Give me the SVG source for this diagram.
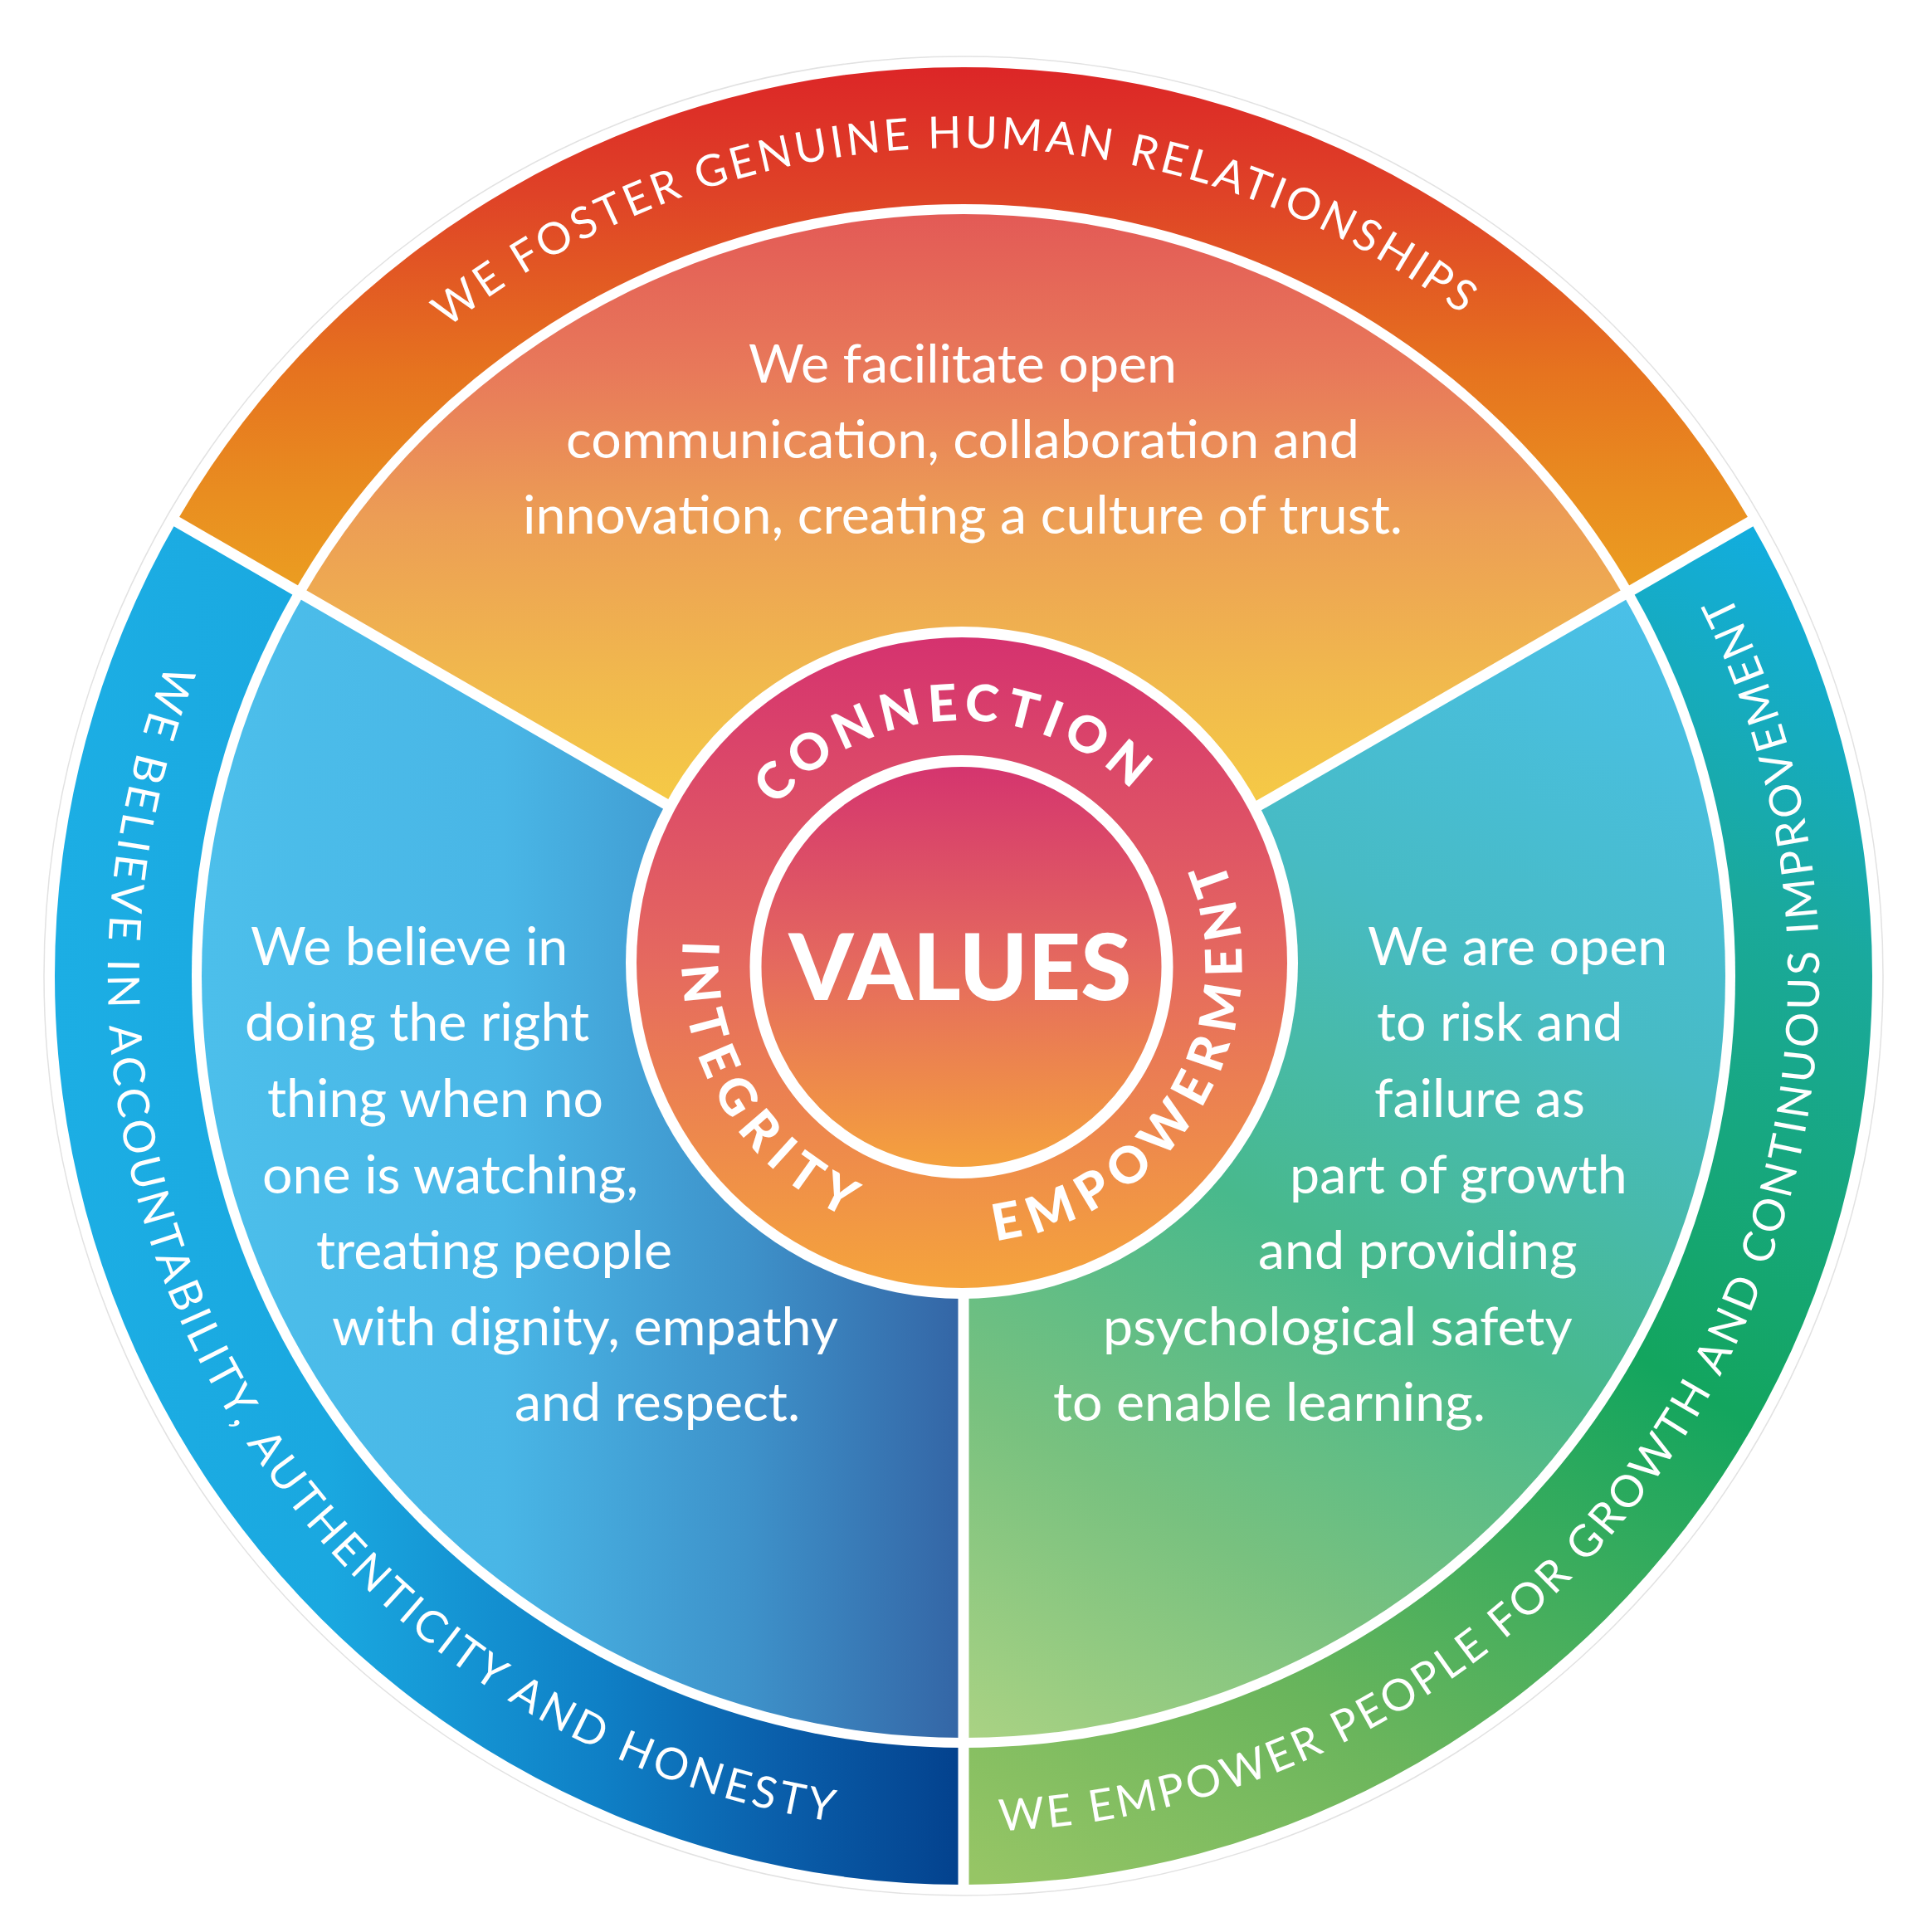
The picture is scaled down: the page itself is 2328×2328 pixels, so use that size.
<svg xmlns="http://www.w3.org/2000/svg" xmlns:xlink="http://www.w3.org/1999/xlink" width="2328" height="2328" viewBox="0 0 2328 2328">
<defs>
<style>
.ring{font-family:Lato,"Noto Sans",sans-serif;font-size:53px;letter-spacing:4px;fill:#fff}
.core{font-family:Lato,"Noto Sans",sans-serif;font-weight:900;font-size:61px;fill:#fff}
.body{font-family:Lato,"Noto Sans",sans-serif;font-size:64.5px;fill:#fff}
.title{font-family:Lato,"Noto Sans",sans-serif;font-weight:900;font-size:111px;fill:#fff}
.sep{stroke:#fff;stroke-width:13;fill:none}
</style>
<linearGradient id="gTopOuter" gradientUnits="userSpaceOnUse" x1="0" y1="82" x2="0" y2="700">
<stop offset="0" stop-color="#DC2627"/><stop offset="0.25" stop-color="#DF4327"/><stop offset="0.59" stop-color="#E6731F"/><stop offset="0.83" stop-color="#E98D20"/><stop offset="1" stop-color="#EB9C21"/>
</linearGradient>
<linearGradient id="gTopInner" gradientUnits="userSpaceOnUse" x1="0" y1="257" x2="0" y2="960">
<stop offset="0" stop-color="#E35A56"/><stop offset="0.27" stop-color="#E8795A"/><stop offset="0.52" stop-color="#EC9D55"/><stop offset="0.815" stop-color="#F1BA4D"/><stop offset="1" stop-color="#F5C946"/>
</linearGradient>
<linearGradient id="gLeftOuter" gradientUnits="userSpaceOnUse" x1="65" y1="0" x2="1161" y2="0">
<stop offset="0" stop-color="#1CAEE4"/><stop offset="0.3" stop-color="#1AA8E0"/><stop offset="0.6" stop-color="#0F80C6"/><stop offset="0.8" stop-color="#0A5EAA"/><stop offset="1" stop-color="#03418D"/>
</linearGradient>
<linearGradient id="gLeftInner" gradientUnits="userSpaceOnUse" x1="240" y1="0" x2="1155" y2="0">
<stop offset="0" stop-color="#4CBFEB"/><stop offset="0.4" stop-color="#49B6E6"/><stop offset="0.72" stop-color="#3E92CA"/><stop offset="1" stop-color="#3466A6"/>
</linearGradient>
<linearGradient id="gRightOuter" gradientUnits="userSpaceOnUse" x1="2150" y1="650" x2="1200" y2="2270">
<stop offset="0" stop-color="#12ADE0"/><stop offset="0.21" stop-color="#1AA99C"/><stop offset="0.5" stop-color="#13A55E"/><stop offset="0.8" stop-color="#6AB55C"/><stop offset="1" stop-color="#96C565"/>
</linearGradient>
<linearGradient id="gRightInner" gradientUnits="userSpaceOnUse" x1="1960" y1="700" x2="1170" y2="2090">
<stop offset="0" stop-color="#4AC0EA"/><stop offset="0.3" stop-color="#47BBC4"/><stop offset="0.55" stop-color="#48B98C"/><stop offset="0.78" stop-color="#78C17F"/><stop offset="1" stop-color="#A9D283"/>
</linearGradient>
<linearGradient id="gRing" gradientUnits="userSpaceOnUse" x1="0" y1="768" x2="0" y2="1552">
<stop offset="0" stop-color="#D5326F"/><stop offset="0.5" stop-color="#E5695F"/><stop offset="1" stop-color="#F5A43C"/>
</linearGradient>
<linearGradient id="gDisk" gradientUnits="userSpaceOnUse" x1="0" y1="917" x2="0" y2="1413">
<stop offset="0" stop-color="#D4336F"/><stop offset="0.5" stop-color="#E56A5E"/><stop offset="1" stop-color="#F5A33C"/>
</linearGradient>
<path id="pTop" d="M 163 1176 A 998 998 0 0 1 2159 1176"/>
<path id="pLeft" d="M 808.4 207.2 A 1031 1031 0 1 0 1823.7 1965.8"/>
<path id="pRight" d="M 492.8 1961.1 A 1031 1031 0 1 0 1520.4 209.7"/>
<path id="pConn" d="M 873.4 1220.7 A 292 292 0 1 1 1448.2 1200.6"/>
<path id="pInteg" d="M 1035.5 846.4 A 337 337 0 1 0 1382.3 1412.4"/>
<path id="pEmpow" d="M 943.5 1419.0 A 337 337 0 1 0 1272.9 842.9"/>
</defs>

<rect width="2328" height="2328" fill="#fff"/>
<circle cx="1161" cy="1176" r="1108" fill="#fff" stroke="#e2e2e2" stroke-width="1.5"/>

<g id="outer-ring">
<path id="ring-connection" d="M 1161 1176 L 212.7 628.5 A 1095 1095 0 0 1 2109.3 628.5 Z" fill="url(#gTopOuter)"/>
<path id="ring-empowerment" d="M 1161 1176 L 2109.3 628.5 A 1095 1095 0 0 1 1161 2271 Z" fill="url(#gRightOuter)"/>
<path id="ring-integrity" d="M 1161 1176 L 1161 2271 A 1095 1095 0 0 1 212.7 628.5 Z" fill="url(#gLeftOuter)"/>
<circle cx="1161" cy="1176" r="930" fill="#fff"/>
</g>

<g id="sector-connection">
<path d="M 1161 1176 L 366 717 A 918 918 0 0 1 1956 717 Z" fill="url(#gTopInner)"/>
<text class="body" text-anchor="middle"><tspan x="1160" y="461">We facilitate open</tspan><tspan x="1160" y="552">communication, collaboration and</tspan><tspan x="1160" y="643">innovation, creating a culture of trust.</tspan></text>
</g>
<g id="sector-empowerment">
<path d="M 1161 1176 L 1956 717 A 918 918 0 0 1 1161 2094 Z" fill="url(#gRightInner)"/>
<text class="body"><tspan x="1648" y="1163">We are open</tspan><tspan x="1659" y="1254">to risk and</tspan><tspan x="1656" y="1346">failure as</tspan><tspan x="1554" y="1438">part of growth</tspan><tspan x="1516" y="1529">and providing</tspan><tspan x="1329" y="1621">psychological safety</tspan><tspan x="1269" y="1712">to enable learning.</tspan></text>
</g>
<g id="sector-integrity">
<path d="M 1161 1176 L 1161 2094 A 918 918 0 0 1 366 717 Z" fill="url(#gLeftInner)"/>
<text class="body"><tspan x="302" y="1163">We believe in</tspan><tspan x="295" y="1254">doing the right</tspan><tspan x="322" y="1346">thing when no</tspan><tspan x="316" y="1438">one is watching,</tspan><tspan x="381" y="1529">treating people</tspan><tspan x="400" y="1621">with dignity, empathy</tspan><tspan x="620" y="1712">and respect.</tspan></text>
</g>

<g id="separators">
<line class="sep" x1="1161" y1="1176" x2="1161" y2="2278"/>
<line class="sep" x1="1161" y1="1176" x2="208.4" y2="626"/>
<line class="sep" x1="1161" y1="1176" x2="2113.6" y2="626"/>
</g>

<g id="ring-labels">
<text class="ring" text-anchor="middle"><textPath xlink:href="#pTop" href="#pTop" startOffset="1556">WE FOSTER GENUINE HUMAN RELATIONSHIPS</textPath></text>
<text class="ring" text-anchor="middle" style="letter-spacing:4.4px"><textPath xlink:href="#pLeft" href="#pLeft" startOffset="50%">WE BELIEVE IN ACCOUNTABILITY, AUTHENTICITY AND HONESTY</textPath></text>
<text class="ring" text-anchor="middle" style="letter-spacing:3.8px"><textPath xlink:href="#pRight" href="#pRight" startOffset="50%">WE EMPOWER PEOPLE FOR GROWTH AND CONTINUOUS IMPROVEMENT</textPath></text>
</g>

<g id="values-core">
<circle cx="1159" cy="1160" r="405" fill="#fff"/>
<circle cx="1159" cy="1160" r="392" fill="url(#gRing)"/>
<circle cx="1158.5" cy="1165" r="248" fill="url(#gDisk)" stroke="#fff" stroke-width="14"/>
<text class="core" text-anchor="middle" style="letter-spacing:8px"><textPath xlink:href="#pConn" href="#pConn" startOffset="50%">CONNECTION</textPath></text>
<text class="core" text-anchor="middle" style="letter-spacing:12px"><textPath xlink:href="#pInteg" href="#pInteg" startOffset="50%">INTEGRITY</textPath></text>
<text class="core" text-anchor="middle" style="letter-spacing:12px"><textPath xlink:href="#pEmpow" href="#pEmpow" startOffset="50%">EMPOWERMENT</textPath></text>
<text class="title" x="1157" y="1205" text-anchor="middle">VALUES</text>
</g>
</svg>
